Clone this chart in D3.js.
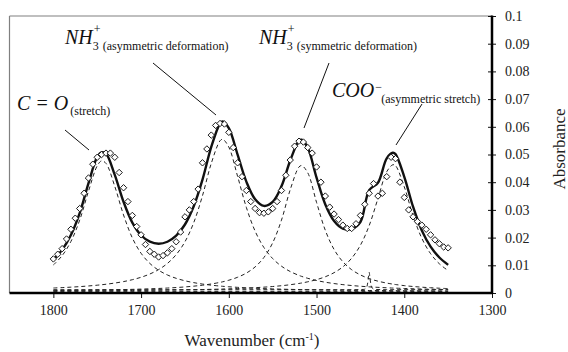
<!DOCTYPE html>
<html><head><meta charset="utf-8">
<script src="https://cdn.jsdelivr.net/npm/d3@7/dist/d3.min.js"></script>
<style>
html,body{margin:0;padding:0;background:#fff;}
svg text{font-family:"Liberation Serif","DejaVu Serif",serif !important;}
</style></head>
<body>
<svg id="chart" width="568" height="352"></svg>
<script>
// ---------- DATA ----------
const xTicks = [1800, 1700, 1600, 1500, 1400, 1300];
const yTicks = [0, 0.01, 0.02, 0.03, 0.04, 0.05, 0.06, 0.07, 0.08, 0.09, 0.1];
const yTickLabels = ["0","0.01","0.02","0.03","0.04","0.05","0.06","0.07","0.08","0.09","0.1"];

// measured spectrum (markers)
const dataWn = [1800,1795,1790,1785,1780,1775,1770,1765,1760,1755,1750,1745,1740,1735,1730,1725,1720,1715,1710,1705,
1700,1695,1690,1685,1680,1675,1670,1665,1660,1655,1650,1645,1640,1635,1630,1625,1620,1615,1610,1605,
1600,1595,1590,1585,1580,1575,1570,1565,1560,1555,1550,1545,1540,1535,1530,1525,1520,1515,1510,1505,
1500,1495,1490,1485,1480,1475,1470,1465,1460,1455,1450,1445,1440,1435,1430,1425,1420,1415,1410,1405,
1400,1395,1390,1385,1380,1375,1370,1365,1360,1355,1350];
const dataAbs = [0.0123,0.014,0.016,0.0195,0.023,0.027,0.0305,0.036,0.0415,0.0465,0.049,0.050,0.0505,0.0505,0.049,0.0435,0.038,0.033,0.028,0.024,
0.021,0.0175,0.015,0.014,0.013,0.0135,0.0145,0.016,0.0185,0.022,0.0275,0.030,0.033,0.0375,0.047,0.052,0.057,0.0605,0.0612,0.061,
0.058,0.0525,0.047,0.042,0.037,0.033,0.0305,0.029,0.0288,0.0293,0.0305,0.033,0.037,0.0425,0.048,0.053,0.0548,0.0545,0.0525,0.0505,
0.0455,0.040,0.035,0.031,0.0285,0.0265,0.0245,0.0233,0.0233,0.025,0.028,0.032,0.036,0.0395,0.035,0.036,0.042,0.049,0.0485,0.040,
0.0345,0.030,0.0275,0.0258,0.0245,0.023,0.021,0.0192,0.0178,0.0166,0.0163];

// fitted curve and component peaks
const curveWn = [1800,1790,1780,1770,1760,1750,1745,1740,1730,1720,1710,1700,1690,1680,1670,1660,1650,1640,1630,1620,1610,1607,
1600,1590,1580,1570,1560,1550,1540,1530,1520,1517,1510,1500,1490,1480,1470,1460,1450,1440,1430,1420,1413,1410,1400,1390,1380,1370,1360,1350];
const fitAbs = [0.01203,0.01558,0.02093,0.02886,0.03956,0.04911,0.05079,0.05031,0.04263,0.03291,0.02543,0.02086,0.01852,0.0178,0.01851,0.0207,0.02473,0.0313,0.04093,0.05272,0.0612,0.0619,
0.05953,0.04997,0.0402,0.03387,0.03144,0.03287,0.0385,0.04785,0.05503,0.05533,0.05241,0.04167,0.03197,0.02599,0.02324,0.02313,0.02564,0.03716,0.0398,0.04861,0.05063,0.05013,0.04194,0.03115,0.02257,0.01674,0.01282,0.01016];
const peakCO = [0.0096,0.01298,0.0181,0.0258,0.0362,0.0454,0.0472,0.0463,0.0380,0.02767,0.0194,0.01384,0.01017,0.00771,0.00601,0.0048,0.00391,0.00324,0.00273,0.00233,0.0020,0.00192,
0.00175,0.00154,0.00136,0.00121,0.00109,0.00098,0.00089,0.00081,0.00074,0.00072,0.00068,0.00062,0.00058,0.00053,0.0005,0.00046,0.00043,0.0004,0.00038,0.00036,0.00035,0.00034,0.00031,0.0003,0.00028,0.00027,0.00025,0.00024];
const peakNH3asym = [0.0013,0.00144,0.00161,0.0018,0.00204,0.00232,0.00248,0.00266,0.00309,0.00362,0.0043,0.00518,0.00636,0.00795,0.01017,0.01335,0.018,0.0249,0.03464,0.0463,0.05446,0.055,
0.05216,0.04163,0.03039,0.02182,0.01592,0.01193,0.00918,0.00725,0.00584,0.0055,0.0048,0.00401,0.00339,0.00291,0.00252,0.0022,0.00194,0.00172,0.00154,0.00138,0.00128,0.00125,0.00113,0.00103,0.00094,0.00087,0.0008,0.00074];
const peakNH3sym = [0.00039,0.00041,0.00045,0.00048,0.00052,0.00057,0.00059,0.00062,0.00068,0.00074,0.00082,0.00091,0.00102,0.00114,0.00129,0.00147,0.00169,0.00197,0.00231,0.00276,0.00333,0.00354,
0.00411,0.00518,0.00669,0.00892,0.01232,0.01762,0.0258,0.0368,0.0450,0.0455,0.04289,0.03222,0.02213,0.01521,0.01078,0.00792,0.00602,0.00471,0.00377,0.00308,0.0027,0.00256,0.00216,0.00185,0.0016,0.0014,0.00123,0.00109];
const peakCOO = [0.00024,0.00025,0.00027,0.00028,0.0003,0.00032,0.00032,0.00033,0.00036,0.00038,0.00041,0.00043,0.00047,0.0005,0.00054,0.00058,0.00063,0.00069,0.00075,0.00083,0.00091,0.00094,
0.00101,0.00112,0.00126,0.00142,0.00161,0.00184,0.00213,0.00249,0.00295,0.00311,0.00354,0.00432,0.00537,0.00684,0.00894,0.01205,0.01675,0.02383,0.03361,0.04329,0.0458,0.04548,0.03784,0.02747,0.01925,0.0137,0.01004,0.00759];
const baselineAbs = 0.0005;
// small narrow band near 1440
const smallWn = [1800,1460,1446,1443,1441,1440,1439,1437,1434,1420,1350];
const smallAbs = [0.0012,0.0012,0.0013,0.002,0.005,0.0075,0.005,0.002,0.0013,0.0012,0.0012];
const flatWn = [1800,1350];
const flatAbs = [0.0006,0.0006];

// ---------- CHART ----------
const svg = d3.select("#chart");
const x = d3.scaleLinear().domain([1850, 1300]).range([9.5, 492]);
const y = d3.scaleLinear().domain([0, 0.1]).range([293, 16]);

// frame (top/left thin)
svg.append("line").attr("x1", 9.5).attr("x2", 492).attr("y1", 16).attr("y2", 16)
  .attr("stroke", "#808080").attr("stroke-width", 1.2);
svg.append("line").attr("x1", 9.5).attr("x2", 9.5).attr("y1", 16).attr("y2", 293)
  .attr("stroke", "#808080").attr("stroke-width", 1.2);

const dashStyle = g => g.attr("fill", "none").attr("stroke", "#222").attr("stroke-width", 1).attr("stroke-dasharray", "4,3");

const compLine = d3.line().x(d => x(d[0])).y(d => y(d[1] + baselineAbs)).curve(d3.curveCatmullRom);
[peakCO, peakNH3asym, peakNH3sym, peakCOO].forEach(arr => {
  svg.append("path").datum(curveWn.map((w, i) => [w, arr[i]])).attr("d", compLine).call(dashStyle);
});
const plainLine = d3.line().x(d => x(d[0])).y(d => y(d[1])).curve(d3.curveMonotoneX);
svg.append("path").datum(smallWn.map((w, i) => [w, smallAbs[i]])).attr("d", plainLine).call(dashStyle);
svg.append("path").datum(flatWn.map((w, i) => [w, flatAbs[i]])).attr("d", plainLine).call(dashStyle);

// fitted line
const fitLine = d3.line().x(d => x(d[0])).y(d => y(d[1])).curve(d3.curveCatmullRom);
svg.append("path").datum(curveWn.map((w, i) => [w, fitAbs[i]])).attr("d", fitLine)
  .attr("fill", "none").attr("stroke", "#111").attr("stroke-width", 2.4);

// markers
svg.append("g").selectAll("path").data(dataWn.map((w, i) => [w, dataAbs[i]])).join("path")
  .attr("transform", d => `translate(${x(d[0])},${y(d[1])})`)
  .attr("d", "M0,-3.2L3.2,0L0,3.2L-3.2,0Z")
  .attr("fill", "#fff").attr("stroke", "#1a1a1a").attr("stroke-width", 1);

// axes
const xAxis = svg.append("g").attr("transform", "translate(0,293)")
  .call(d3.axisBottom(x).tickValues(xTicks).tickSize(5).tickPadding(7).tickFormat(d3.format("d")));
xAxis.select(".domain").remove();
xAxis.selectAll("text").attr("font-size", 14).attr("fill", "#222");
xAxis.selectAll("line").attr("stroke", "#111");

const yAxis = svg.append("g").attr("transform", "translate(492,0)")
  .call(d3.axisRight(y).tickValues(yTicks).tickSize(4).tickPadding(9).tickFormat((d, i) => yTickLabels[i]));
yAxis.select(".domain").remove();
yAxis.selectAll("line").attr("x1", -4).attr("x2", 4).attr("stroke", "#111");
yAxis.selectAll("text").attr("font-size", 14).attr("fill", "#222");

svg.append("line").attr("x1", 9.5).attr("x2", 493).attr("y1", 293).attr("y2", 293)
  .attr("stroke", "#000").attr("stroke-width", 2.5);
svg.append("line").attr("x1", 492).attr("x2", 492).attr("y1", 15.5).attr("y2", 294)
  .attr("stroke", "#000").attr("stroke-width", 2.5);

// axis titles
const xt = svg.append("text").attr("x", 252).attr("y", 346).attr("text-anchor", "middle")
  .attr("font-size", 17).attr("fill", "#222");
xt.append("tspan").text("Wavenumber (cm");
xt.append("tspan").attr("font-size", 10).attr("dy", -6).text("-1");
xt.append("tspan").attr("dy", 6).text(")");

svg.append("text").attr("transform", "translate(565,149) rotate(-90)").attr("text-anchor", "middle")
  .attr("font-size", 17).attr("fill", "#222").text("Absorbance");

// annotations
function annot(x0, yb, main, supTxt, supDy, subDigit, subTxt, subDy, subGap) {
  const m = svg.append("text").attr("x", x0).attr("y", yb).attr("font-size", 20)
    .attr("font-style", "italic").attr("fill", "#111").text(main);
  const w = m.node().getComputedTextLength();
  const xe = x0 + w + 1;
  if (supTxt) svg.append("text").attr("x", xe).attr("y", yb + supDy).attr("font-size", 12).attr("fill", "#111").text(supTxt);
  let xs = xe;
  if (subDigit) {
    svg.append("text").attr("x", xe - 1).attr("y", yb + subDy).attr("font-size", 12).attr("fill", "#111").text(subDigit);
    xs = xe + 9;
  }
  svg.append("text").attr("x", xs + subGap).attr("y", yb + subDy).attr("font-size", 12).attr("fill", "#111").text(subTxt);
}
annot(17, 110, "C = O", null, 0, null, "(stretch)", 5, 1);
annot(65, 44, "NH", "+", -11, "3", "(asymmetric deformation)", 6, 0);
annot(259, 44, "NH", "+", -11, "3", "(symmetric deformation)", 6, 0);
annot(332, 97, "COO", "\u2212", -6, null, "(asymmetric stretch)", 6, 6);

// leader lines
const leaders = [[65,130,89,150],[153,63,216,115],[329,63,304,128],[422,104,396,145]];
svg.append("g").selectAll("line").data(leaders).join("line")
  .attr("x1", d => d[0]).attr("y1", d => d[1]).attr("x2", d => d[2]).attr("y2", d => d[3])
  .attr("stroke", "#111").attr("stroke-width", 1);
</script>
</body></html>
